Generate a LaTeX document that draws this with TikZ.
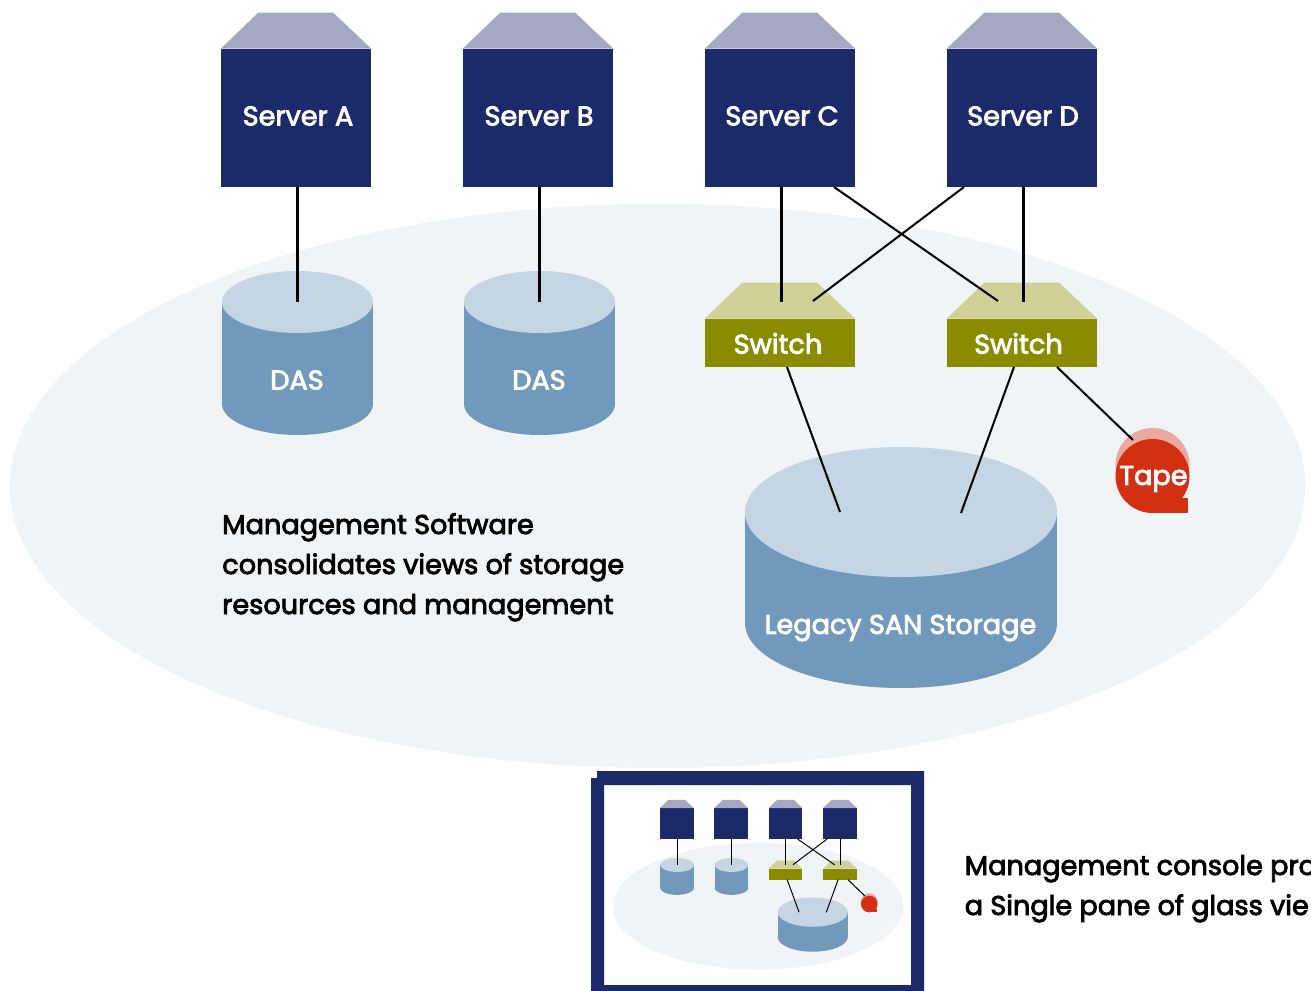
\documentclass[tikz,border=0pt]{standalone}
\usepackage{fontspec}
\setmainfont{Poppins}[FakeBold=3]
\usetikzlibrary{shapes.geometric}
\definecolor{serverblue}{HTML}{1B2A68}
\definecolor{serverroof}{HTML}{A3A8C3}
\definecolor{switchgreen}{HTML}{8B8B00}
\definecolor{switchroof}{HTML}{CFD196}
\definecolor{dasbody}{HTML}{7199BB}
\definecolor{dastop}{HTML}{C5D5E3}
\definecolor{tapered}{HTML}{D32F12}
\definecolor{tapelight}{HTML}{EBA9A0}
\definecolor{cloudgrey}{HTML}{F1F4F7}
\tikzset{
    serverbox/.style={rectangle, fill=serverblue, inner sep=0pt,
                      minimum width=3.75cm, minimum height=3.45cm},
    switchbox/.style={rectangle, fill=switchgreen, inner sep=0pt,
                      minimum width=3.75cm, minimum height=1.2cm},
    cloud/.style={ellipse, fill=cloudgrey, inner sep=0pt},
    disktop/.style={ellipse, fill=dastop, inner sep=0pt},
    tapedisc/.style={circle, fill=tapered, inner sep=0pt, minimum size=1.85cm},
    tapeback/.style={circle, fill=tapelight, inner sep=0pt, minimum size=1.85cm},
    whitelabel/.style={text=white, inner sep=0pt},
    blacklabel/.style={text=black, inner sep=0pt, anchor=base west},
    link/.style={draw=black, line width=1.45pt}
}
% roof of a server or switch: box name, then height of the roof
\newcommand{\roofon}[3]{
    \fill[#3] (#1.north west) -- ++(37.5,-#2) -- ++(75,0) -- (#1.north east) -- cycle;
}
% disk: name, x, y of the top, radii, depth
\newcommand{\disk}[6]{
    \fill[dasbody] (#2-#4,#3) rectangle (#2+#4,#3+#6);
    \fill[dasbody] (#2,#3+#6) ellipse [x radius=#4, y radius=#5];
    \node[disktop, minimum width=#4*0.05cm, minimum height=#5*0.05cm] (#1) at (#2,#3) {};
}
% the whole storage scene, #1 is the prefix of its names
\newcommand{\storagescene}[9]{
    \node[cloud, minimum width=32.375cm, minimum height=14.1cm] (#1cloud) at (657.5,486) {};
    \node[serverbox] (#1sa) at (296,118) {};
    \node[serverbox] (#1sb) at (538,118) {};
    \node[serverbox] (#1sc) at (780,118) {};
    \node[serverbox] (#1sd) at (1022,118) {};
    \foreach \s in {sa,sb,sc,sd} {\roofon{#1\s}{36}{serverroof}}
    \node[whitelabel] (#1satext) at (298,116) {#2};
    \node[whitelabel] (#1sbtext) at (539,116) {#3};
    \node[whitelabel] (#1sctext) at (782,116) {#4};
    \node[whitelabel] (#1sdtext) at (1023,116) {#5};
    \disk{#1dasa}{297.5}{302}{75.5}{31}{102}
    \disk{#1dasb}{539.5}{302}{75.5}{31}{102}
    \disk{#1san}{901}{512}{156}{65}{111}
    \node[whitelabel] (#1dasatext) at (297,380) {#6};
    \node[whitelabel] (#1dasbtext) at (539,380) {#6};
    \node[whitelabel] (#1santext) at (900.5,628) {#8};
    \node[switchbox] (#1swa) at (780,343) {};
    \node[switchbox] (#1swb) at (1022,343) {};
    \roofon{#1swa}{36}{switchroof}
    \roofon{#1swb}{36}{switchroof}
    \node[whitelabel] (#1swatext) at (778,343.5) {#7};
    \node[whitelabel] (#1swbtext) at (1018.5,343.5) {#7};
    \node[tapeback] (#1tapeb) at (1152.5,465) {};
    \fill[tapered] (1150,498) rectangle (1188,513);
    \node[tapedisc] (#1tape) at (1152.5,476) {};
    \node[whitelabel] (#1tapetext) at (1153.5,479) {#9};
    \coordinate (#1scout) at (834,187);
    \coordinate (#1sdout) at (964,187);
    \coordinate (#1swatop) at (781.5,302);
    \coordinate (#1swbtop) at (1023.5,302);
    \coordinate (#1swain) at (813,301);
    \coordinate (#1swbin) at (998,301);
    \coordinate (#1swaout) at (787,367);
    \coordinate (#1swbout) at (1014,367);
    \coordinate (#1swbtape) at (1057,367);
    \coordinate (#1sanleft) at (840,512);
    \coordinate (#1sanright) at (961,513);
    \coordinate (#1tapein) at (1133,440);
    \draw[link] (#1sa.south -| #1dasa) -- (#1dasa.center);
    \draw[link] (#1sb.south -| #1dasb) -- (#1dasb.center);
    \draw[link] (#1sc.south -| #1swatop) -- (#1swatop);
    \draw[link] (#1sd.south -| #1swbtop) -- (#1swbtop);
    \draw[link] (#1scout) -- (#1swbin);
    \draw[link] (#1sdout) -- (#1swain);
    \draw[link] (#1swaout) -- (#1sanleft);
    \draw[link] (#1swbout) -- (#1sanright);
    \draw[link] (#1swbtape) -- (#1tapein);
}
\begin{document}
\begin{tikzpicture}[x=0.025cm, y=-0.025cm]
    \useasboundingbox (0,0) rectangle (1311,991);
    \begin{scope}[font=\fontsize{19.3}{24}\selectfont]
        \storagescene{m}{Server A}{Server B}{Server C}{Server D}{DAS}{Switch}{Legacy SAN Storage}{Tape}
    \end{scope}
    % the console window
    \fill[serverblue, even odd rule] (597,771) -- (924,771) -- (924,991) -- (591,991) -- (591,778) -- (597,778) -- cycle
        (604,785) rectangle (911,985);
    \begin{scope}[shift={(610.3,797.1)}, scale=0.2247, transform shape, link/.style={draw=black, line width=0.7pt}]
        \storagescene{c}{}{}{}{}{}{}{}{}
    \end{scope}
    \begin{scope}[font=\fontsize{19.3}{24}\selectfont]
        \node[blacklabel] (mgmta) at (222,534) {Management Software};
        \node[blacklabel] (mgmtb) at (222,574) {consolidates views of storage};
        \node[blacklabel] (mgmtc) at (222,614) {resources and management};
        \node[blacklabel] (consa) at (964.5,875) {Management console pro};
        \node[blacklabel] (consb) at (964.5,915) {a Single pane of glass vie};
    \end{scope}
\end{tikzpicture}
\end{document}
